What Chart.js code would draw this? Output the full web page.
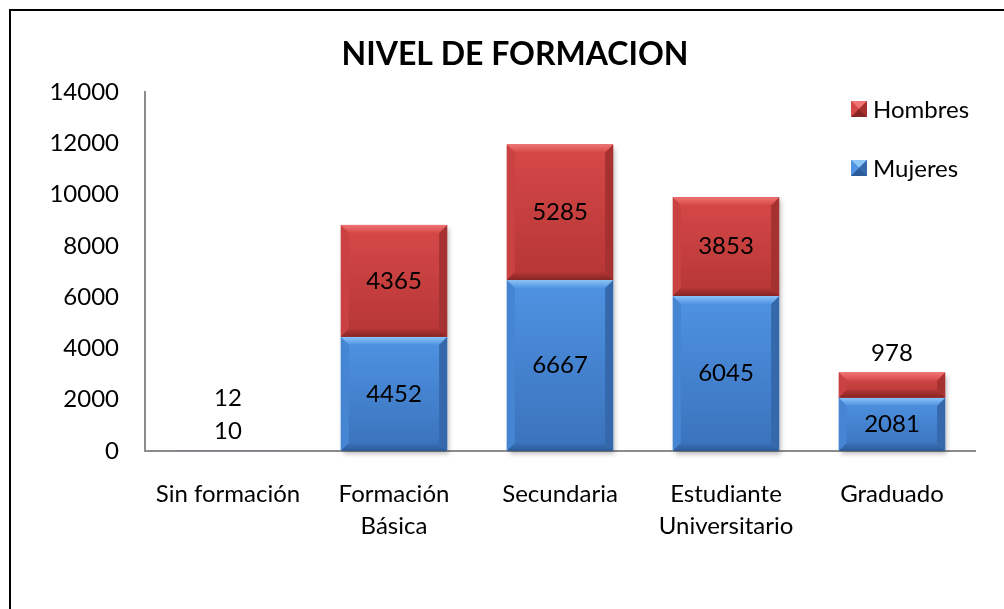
<!DOCTYPE html>
<html>
<head>
<meta charset="utf-8">
<script src="https://cdn.jsdelivr.net/npm/chart.js@4"></script>
<style>
  html, body { margin: 0; padding: 0; background: #fff; overflow: hidden; }
  #wrap { width: 1004px; height: 609px; position: relative; }
</style>
</head>
<body>
<div id="wrap"><canvas id="nivelChart"></canvas></div>
<script>
// datos
const categories = [["Sin formación"], ["Formación", "Básica"], ["Secundaria"], ["Estudiante", "Universitario"], ["Graduado"]];
const mujeres = [10, 4452, 6667, 6045, 2081];
const hombres = [12, 4365, 5285, 3853, 978];
const seriesNames = ["Mujeres", "Hombres"];
const yMax = 14000;
const yStep = 2000;
const chartTitle = "NIVEL DE FORMACION";

const FONT = "Lato, 'Open Sans', sans-serif";

// colores de relieve (cuerpo arriba/abajo, bisel claro/oscuro, lados)
const palette = {
  Mujeres: { base: "#4485d4", top: "#4f93e2", bot: "#3a72bc", hi: "#8cc4f8", lo: "#2c5a96", side1: "#4585d2", side2: "#3569ac" },
  Hombres: { base: "#cc4040", top: "#d64848", bot: "#b63636", hi: "#f07474", lo: "#862525", side1: "#c94141", side2: "#a53131" },
};

// marco exterior
const framePlugin = {
  id: "frame",
  beforeDraw: (chart) => {
    const { ctx } = chart;
    ctx.save();
    ctx.fillStyle = "#fff";
    ctx.fillRect(0, 0, chart.width, chart.height);
    ctx.strokeStyle = "#000";
    ctx.lineWidth = 2;
    ctx.strokeRect(10, 10, chart.width + 20, chart.height + 20);
    ctx.restore();
  },
};

// sombra bajo cada columna
const shadowPlugin = {
  id: "barShadow",
  beforeDatasetsDraw: (chart) => {
    const { ctx } = chart;
    const last = chart.getDatasetMeta(chart.data.datasets.length - 1);
    const first = chart.getDatasetMeta(0);
    last.data.forEach((el, i) => {
      const base = first.data[i].base;
      const h = base - el.y;
      if (h < 3) return;
      ctx.save();
      ctx.shadowColor = "rgba(0,0,0,0.3)";
      ctx.shadowBlur = 5;
      ctx.shadowOffsetX = 2;
      ctx.shadowOffsetY = 3;
      ctx.fillStyle = "#fff";
      ctx.fillRect(el.x - el.width / 2, el.y, el.width, h);
      ctx.restore();
    });
  },
};

const poly = (ctx, pts, fill) => {
  ctx.beginPath();
  ctx.moveTo(pts[0][0], pts[0][1]);
  for (let i = 1; i < pts.length; i++) ctx.lineTo(pts[i][0], pts[i][1]);
  ctx.closePath();
  ctx.fillStyle = fill;
  ctx.fill();
};

// efecto bisel tipo Excel
const bevelPlugin = {
  id: "bevel",
  afterDatasetsDraw: (chart) => {
    const { ctx } = chart;
    chart.data.datasets.forEach((ds, di) => {
      const c = palette[ds.label];
      chart.getDatasetMeta(di).data.forEach((el) => {
        const l = el.x - el.width / 2;
        const r = el.x + el.width / 2;
        const t = Math.min(el.y, el.base);
        const b = Math.max(el.y, el.base);
        const h = b - t;
        if (h < 2) return;
        const bv = Math.min(8, h / 2.5, el.width / 2);
        ctx.save();
        const g = ctx.createLinearGradient(0, t, 0, b);
        g.addColorStop(0, c.top);
        g.addColorStop(1, c.bot);
        ctx.fillStyle = g;
        ctx.fillRect(l, t, r - l, h);
        poly(ctx, [[l, t], [l + bv, t + bv], [l + bv, b - bv], [l, b]], c.side1);
        poly(ctx, [[r, t], [r - bv, t + bv], [r - bv, b - bv], [r, b]], c.side2);
        const gt = ctx.createLinearGradient(0, t, 0, t + bv);
        gt.addColorStop(0, c.hi);
        gt.addColorStop(1, c.top);
        poly(ctx, [[l, t], [r, t], [r - bv, t + bv], [l + bv, t + bv]], gt);
        const gb = ctx.createLinearGradient(0, b - bv, 0, b);
        gb.addColorStop(0, c.bot);
        gb.addColorStop(1, c.lo);
        poly(ctx, [[l, b], [r, b], [r - bv, b - bv], [l + bv, b - bv]], gb);
        ctx.restore();
      });
    });
  },
};

// etiquetas de datos: dentro del segmento, o encima si es muy pequeño
const labelPlugin = {
  id: "valueLabels",
  afterDatasetsDraw: (chart) => {
    const { ctx } = chart;
    const n = chart.data.labels.length;
    const lastMeta = chart.getDatasetMeta(chart.data.datasets.length - 1);
    ctx.save();
    ctx.font = `24px ${FONT}`;
    ctx.fillStyle = "#000";
    ctx.textAlign = "center";
    ctx.textBaseline = "middle";
    for (let i = 0; i < n; i++) {
      const stackTop = lastMeta.data[i].y;
      let above = 0;
      chart.data.datasets.forEach((ds, di) => {
        const el = chart.getDatasetMeta(di).data[i];
        const h = Math.abs(el.base - el.y);
        const txt = String(ds.data[i]);
        if (h >= 30) {
          ctx.fillText(txt, el.x, (el.y + el.base) / 2);
        } else {
          ctx.fillText(txt, el.x, stackTop - 19 - 33 * above);
          above++;
        }
      });
    }
    ctx.restore();
  },
};

// título y leyenda
const titleLegendPlugin = {
  id: "titleLegend",
  afterDraw: (chart) => {
    const { ctx } = chart;
    ctx.save();
    ctx.fillStyle = "#000";
    ctx.font = `bold 32px ${FONT}`;
    ctx.textAlign = "center";
    ctx.textBaseline = "middle";
    ctx.fillText(chartTitle, 515, 55);

    // leyenda en orden inverso (Hombres arriba)
    const items = chart.data.datasets.map((d) => d.label).reverse();
    ctx.font = `24px ${FONT}`;
    ctx.textAlign = "left";
    items.forEach((name, k) => {
      const c = palette[name];
      const cy = 109 + 59 * k;
      const x0 = 851, y0 = cy - 8, s = 16, m = 8;
      ctx.fillStyle = c.base;
      ctx.fillRect(x0, y0, s, s);
      poly(ctx, [[x0, y0], [x0 + s, y0], [x0 + m, y0 + m]], c.hi);
      poly(ctx, [[x0, y0], [x0 + m, y0 + m], [x0, y0 + s]], c.top);
      poly(ctx, [[x0 + s, y0], [x0 + m, y0 + m], [x0 + s, y0 + s]], c.side2);
      poly(ctx, [[x0, y0 + s], [x0 + m, y0 + m], [x0 + s, y0 + s]], c.lo);
      ctx.fillStyle = "#000";
      ctx.fillText(name, 873, cy + 1);
    });
    ctx.restore();
  },
};

const ctx = document.getElementById("nivelChart").getContext("2d");

new Chart(ctx, {
  type: "bar",
  data: {
    labels: categories,
    datasets: [
      { label: seriesNames[0], data: mujeres, backgroundColor: palette.Mujeres.base, borderWidth: 0 },
      { label: seriesNames[1], data: hombres, backgroundColor: palette.Hombres.base, borderWidth: 0 },
    ],
  },
  plugins: [framePlugin, shadowPlugin, bevelPlugin, labelPlugin, titleLegendPlugin],
  options: {
    responsive: true,
    maintainAspectRatio: false,
    animation: false,
    events: [],
    barPercentage: 0.64,
    categoryPercentage: 1,
    layout: { padding: { top: 92, right: 29, left: 0, bottom: 0 } },
    plugins: {
      legend: { display: false },
      title: { display: false },
      tooltip: { enabled: false },
    },
    scales: {
      x: {
        stacked: true,
        grid: { display: false, drawTicks: false },
        border: { display: true, color: "#8c8c8c", width: 2 },
        ticks: {
          color: "#000",
          font: { size: 24, family: FONT, lineHeight: 1.33 },
          padding: 27,
          maxRotation: 0,
          autoSkip: false,
        },
        afterFit: (s) => { s.height = 158; },
      },
      y: {
        stacked: true,
        min: 0,
        max: yMax,
        grid: { display: false, drawTicks: false },
        border: { display: true, color: "#8c8c8c", width: 2 },
        ticks: {
          stepSize: yStep,
          color: "#000",
          font: { size: 24, family: FONT },
          padding: 26,
          callback: (v) => String(v),
        },
        afterFit: (s) => { s.width = 145; },
      },
    },
  },
});
</script>
</body>
</html>
